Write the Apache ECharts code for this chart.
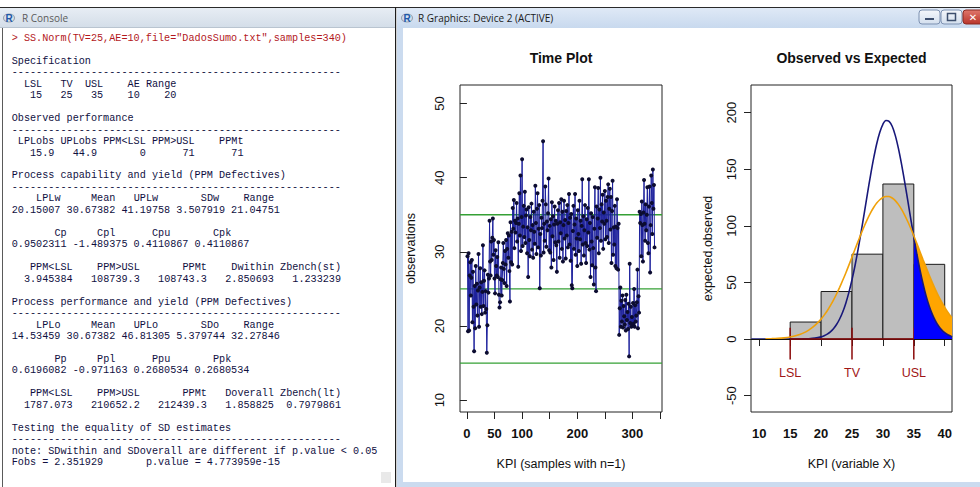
<!DOCTYPE html>
<html>
<head>
<meta charset="utf-8">
<script src="https://cdn.jsdelivr.net/npm/echarts@6/dist/echarts.min.js"></script>
<style>
html, body { margin: 0; padding: 0; background: #fff; }
#main { width: 980px; height: 487px; }
</style>
</head>
<body>
<div id="main"></div>
<script>
// time plot: 340 observations
var obs = [
29.4,19.3,29.8,19.4,26.8,28.6,24.1,26.5,28.9,20.5,27.3,22.6,16.6,25.4,19.7,28.1,22.9,25.7,21.4,24.8,
29.7,19.9,25.2,27.8,22.6,25.9,21.6,24.6,30.9,22.7,26.1,27.5,21.8,24.7,22.3,16.4,20.1,26.9,24.5,26.4,
34.2,28.7,26.8,31.4,28.9,31.9,34.5,29.6,31.6,26.4,24.4,30.2,28.1,26.8,29.3,26.6,31.3,24.2,22.5,23.2,
26.3,27.9,24.1,26.2,28.5,31.2,27.7,25.8,30.1,28.3,31.6,25.4,30.4,32.5,29.2,32.2,27.4,23.3,34.0,28.6,
32.7,28.3,35.9,33.1,37.0,30.5,34.2,32.6,33.9,36.6,31.4,34.5,28.0,33.8,37.9,32.2,40.3,30.1,34.7,42.5,
30.8,33.4,36.2,32.0,38.1,31.2,34.9,35.7,29.8,33.3,26.6,36.0,31.6,29.4,34.7,32.9,36.5,30.3,33.6,29.2,
35.4,32.7,31.1,38.9,33.9,29.7,35.8,37.9,30.6,33.1,36.3,25.1,32.4,29.5,34.6,33.2,36.9,44.9,29.9,33.8,
31.5,38.8,36.4,30.7,34.1,32.9,35.2,39.9,30.2,33.5,29.9,34.4,27.9,36.7,32.1,34.8,28.9,33.7,36.1,31.3,
34.2,30.9,27.3,33.8,35.6,31.4,36.6,29.2,34.0,32.5,37.1,30.4,35.4,28.7,33.6,36.9,31.8,34.3,29.1,35.5,
32.2,36.3,30.6,33.9,37.8,31.0,34.6,28.8,35.1,25.5,25.1,32.8,36.2,30.4,33.7,37.8,29.6,34.5,31.8,28.1,
35.6,32.4,30.1,36.9,31.7,34.2,28.4,33.5,39.8,31.0,34.8,29.5,32.9,36.3,31.2,28.5,34.4,30.8,35.9,32.6,
39.8,30.3,33.9,26.6,35.2,31.4,28.2,34.7,30.5,25.6,33.1,38.7,27.9,24.7,36.1,31.9,34.5,38.6,29.8,35.7,
33.2,40.0,31.5,36.4,34.1,37.7,30.4,35.3,33.8,38.2,31.7,36.9,34.2,32.0,37.4,39.1,31.2,35.8,38.5,33.0,
37.4,28.5,35.5,39.6,29.6,33.3,31.0,36.2,28.1,33.4,27.8,37.1,33.2,27.6,33.8,18.8,22.4,25.2,19.9,23.4,
20.6,24.1,19.8,22.7,21.3,20.2,23.5,19.4,24.2,20.8,21.9,19.6,23.0,15.9,28.4,20.4,22.6,19.9,21.2,20.1,
23.1,20.3,25.0,19.9,22.8,20.6,21.4,23.2,27.6,19.7,24.0,21.8,35.4,33.9,35.1,29.4,36.8,33.6,28.7,35.3,
39.7,33.8,31.5,36.4,32.9,35.0,38.7,31.2,29.8,36.1,38.8,27.2,33.6,40.3,36.6,32.4,41.1,35.8,39.0,30.6
];
var specX = [15, 25, 35];
var specNames = ['LSL', 'TV', 'USL'];
var timeTicks = [0, 50, 100, 150, 200, 250, 300, 350];
var timeLabels = [0, 50, 100, 200, 300];
var obsTicks = [10, 20, 30, 40, 50];

// histogram
var breaks = [15, 20, 25, 30, 35, 40];
var counts = [15, 42, 75, 137, 66];
var histTicksX = [10, 15, 20, 25, 30, 35, 40];
var histTicksY = [-50, 0, 50, 100, 150, 200];

// expected curves (within = blue, overall = orange)
var withinX = [8.7,10,12,14,16,17,18,19,20,20.5,21,21.5,22,22.5,23,23.5,24,24.5,25,25.5,26,26.5,27,27.5,28,28.5,29,29.5,30,30.5,31,31.5,32,32.5,33,33.5,34,34.5,35,35.5,36,36.5,37,37.5,38,38.5,39,39.5,40,40.5,41,41.2];
var withinY = [0,0,0,0,0.03,0.1,0.28,0.76,1.9,2.9,4.3,6.3,9.1,12.8,17.7,23.9,31.7,41.2,52.4,65.2,79.7,95.4,111.8,128.5,144.7,159.6,172.6,182.8,189.8,193.1,192.4,188.0,180.0,168.7,155.0,139.6,123.2,106.5,90.2,74.9,61.0,48.6,37.9,29.0,21.8,16.0,11.5,8.1,5.6,3.8,2.5,2.1];
var overallX = [11,12,13,14,15,16,17,18,19,20,20.5,21,21.5,22,22.5,23,23.5,24,24.5,25,25.5,26,26.5,27,27.5,28,28.5,29,29.5,30,30.5,31,31.5,32,32.5,33,33.5,34,34.5,35,35.5,36,36.5,37,37.5,38,38.5,39,39.5,40,40.5,41,41.2];
var overallY = [0.16,0.31,0.57,1.04,1.81,3.06,4.99,7.88,12.0,17.6,21.1,25.0,29.5,34.4,39.8,45.7,51.9,58.4,65.3,72.4,79.5,86.5,93.4,99.9,106.0,111.5,116.2,120.2,123.1,125.1,126.0,125.9,124.6,122.3,119.0,114.8,109.8,104.1,97.9,91.2,84.3,77.2,70.1,63.1,56.3,49.9,43.7,38.0,32.8,28.0,23.8,19.9,18.8];

// console text
var dashes = '------------------------------------------------------';
var consoleLines = [
'> SS.Norm(TV=25,AE=10,file="DadosSumo.txt",samples=340)',
'',
'Specification',
dashes,
'  LSL   TV  USL    AE Range',
'   15   25   35    10    20',
'',
'Observed performance',
dashes,
' LPLobs UPLobs PPM<LSL PPM>USL    PPMt',
'   15.9   44.9       0      71      71',
'',
'Process capability and yield (PPM Defectives)',
dashes,
'    LPLw     Mean   UPLw       SDw    Range',
'20.15007 30.67382 41.19758 3.507919 21.04751',
'',
'       Cp     Cpl      Cpu       Cpk',
'0.9502311 -1.489375 0.4110867 0.4110867',
'',
'   PPM<LSL    PPM>USL       PPMt    Dwithin Zbench(st)',
'  3.945384   108739.3   108743.3   2.850693   1.233239',
'',
'Process performance and yield (PPM Defectives)',
dashes,
'    LPLo     Mean   UPLo       SDo    Range',
'14.53459 30.67382 46.81305 5.379744 32.27846',
'',
'       Pp     Ppl      Ppu       Ppk',
'0.6196082 -0.971163 0.2680534 0.2680534',
'',
'   PPM<LSL    PPM>USL       PPMt   Doverall Zbench(lt)',
'  1787.073   210652.2   212439.3   1.858825  0.7979861',
'',
'Testing the equality of SD estimates',
dashes,
'note: SDwithin and SDoverall are different if p.value < 0.05',
'Fobs = 2.351929       p.value = 4.773959e-15'
];

function pairs(xs, ys, from) {
    var out = [];
    for (var i = 0; i < xs.length; i++) {
        if (from == null || xs[i] >= from) out.push([xs[i], ys[i]]);
    }
    return out;
}

var charW = 6.1, lineH = 11.47, textX = 11.7, textY = 38.3;
var monoFont = (charW / 0.6).toFixed(2) + 'px "Liberation Mono", "DejaVu Sans Mono", monospace';

function consoleGraphics() {
    var els = [];
    consoleLines.forEach(function (line, k) {
        var re = /\S+(?: \S+)*/g, m;
        while ((m = re.exec(line)) !== null) {
            els.push({
                type: 'text', x: textX + m.index * charW, y: textY + k * lineH,
                style: { text: m[0], font: monoFont, fill: k === 0 ? '#b3181d' : '#10103f', textVerticalAlign: 'middle' }
            });
        }
    });
    return els;
}

function rIcon(x, y) {
    return [
        { type: 'ellipse', shape: { cx: x + 5, cy: y, rx: 5.5, ry: 4 }, style: { fill: 'none', stroke: '#9aa3ae', lineWidth: 1.2 } },
        { type: 'text', x: x + 5, y: y + 0.5, style: { text: 'R', font: 'bold 10px "Liberation Sans"', fill: '#2158a8', textAlign: 'center', textVerticalAlign: 'middle' } }
    ];
}

function titleGrad(top, bottom) {
    return { type: 'linear', x: 0, y: 0, x2: 0, y2: 1, colorStops: [{ offset: 0, color: top }, { offset: 1, color: bottom }] };
}

var chrome = [
    { type: 'rect', shape: { x: 0, y: 7, width: 980, height: 1 }, style: { fill: '#2a2a2a' } },
    // console window
    { type: 'rect', shape: { x: 0, y: 8, width: 395, height: 20 }, style: { fill: titleGrad('#e7edf4', '#d3dde8') } },
    { type: 'rect', shape: { x: 0, y: 27, width: 395, height: 1 }, style: { fill: '#b9c4d0' } },
    { type: 'rect', shape: { x: 2, y: 28, width: 1, height: 459 }, style: { fill: '#5a5a5a' } },
    { type: 'rect', shape: { x: 381, y: 472, width: 10, height: 11 }, style: { fill: '#e9e9e9' } },
    { type: 'rect', shape: { x: 395, y: 7, width: 1.2, height: 480 }, style: { fill: '#1c1c1c' } },
    { type: 'text', x: 22, y: 18, style: { text: 'R Console', font: '10px "Open Sans", "Noto Sans"', fill: '#5b5b5b', textVerticalAlign: 'middle' } },
    // graphics window frame (title bar, left and bottom borders)
    { type: 'rect', shape: { x: 397, y: 8, width: 583, height: 20 }, style: { fill: titleGrad('#dfe9f6', '#c8d9ee') } },
    { type: 'rect', shape: { x: 397, y: 28, width: 6, height: 459 }, style: { fill: '#cbdbef' } },
    { type: 'rect', shape: { x: 397, y: 482, width: 583, height: 5 }, style: { fill: '#cbdbef' } },
    { type: 'text', x: 418, y: 18, style: { text: 'R Graphics: Device 2 (ACTIVE)', font: '10px "Open Sans", "Noto Sans"', fill: '#1a1a1a', textVerticalAlign: 'middle' } },
    // caption buttons
    { type: 'rect', shape: { x: 919, y: 10, width: 21, height: 14, r: 3 }, style: { fill: titleGrad('#f4f7fb', '#d3dfee'), stroke: '#7d91b1', lineWidth: 1 } },
    { type: 'rect', shape: { x: 925, y: 18, width: 9, height: 2 }, style: { fill: '#3d4f6e' } },
    { type: 'rect', shape: { x: 941, y: 10, width: 21, height: 14, r: 3 }, style: { fill: titleGrad('#f4f7fb', '#d3dfee'), stroke: '#7d91b1', lineWidth: 1 } },
    { type: 'rect', shape: { x: 947.5, y: 13.5, width: 8, height: 7 }, style: { fill: 'none', stroke: '#3d4f6e', lineWidth: 1.5 } },
    { type: 'rect', shape: { x: 963, y: 10, width: 30, height: 14, r: 3 }, style: { fill: titleGrad('#e0776c', '#b9352b'), stroke: '#8a2a22', lineWidth: 1 } },
    { type: 'text', x: 973, y: 17, style: { text: '✕', font: 'bold 10px "DejaVu Sans"', fill: '#ffffff', textAlign: 'center', textVerticalAlign: 'middle' } },
    // plot titles
    { type: 'text', x: 561, y: 58, style: { text: 'Time Plot', font: 'bold 14px "Liberation Sans"', fill: '#111', textAlign: 'center', textVerticalAlign: 'middle' } },
    { type: 'text', x: 851.5, y: 58, style: { text: 'Observed vs Expected', font: 'bold 14px "Liberation Sans"', fill: '#111', textAlign: 'center', textVerticalAlign: 'middle' } }
];

var graphics = chrome.concat(rIcon(4, 18), rIcon(402, 18), consoleGraphics());

var xLabelStyle = { fontSize: 13, color: '#111', fontFamily: 'Liberation Sans', fontWeight: 'bold' };
var yLabelStyle = { fontSize: 13, color: '#111', fontFamily: 'Liberation Sans' };
var nameStyle = { fontSize: 12.5, color: '#111', fontFamily: 'Liberation Sans' };

var myChart = echarts.init(document.getElementById('main'), null, { renderer: 'svg' });

myChart.setOption({
    animation: false,
    backgroundColor: '#ffffff',
    textStyle: { fontFamily: 'Liberation Sans' },
    graphic: graphics,
    grid: [
        { left: 460, top: 85, width: 202, height: 327, show: true, borderColor: '#222', borderWidth: 1, backgroundColor: 'transparent' },
        { left: 751, top: 85, width: 201, height: 327, show: true, borderColor: '#222', borderWidth: 1, backgroundColor: 'transparent' }
    ],
    xAxis: [
        {
            gridIndex: 0, type: 'value', min: -12.56, max: 353.56,
            axisLine: { show: false }, splitLine: { show: false },
            axisTick: { show: true, length: 7, lineStyle: { color: '#222' }, customValues: timeTicks },
            axisLabel: Object.assign({ customValues: timeLabels, margin: 15 }, xLabelStyle),
            name: 'KPI (samples with n=1)', nameLocation: 'middle', nameGap: 45, nameTextStyle: nameStyle
        },
        {
            gridIndex: 1, type: 'value', min: 8.66, max: 41.18,
            axisLine: { show: false }, splitLine: { show: false },
            axisTick: { show: true, length: 7, lineStyle: { color: '#222' }, customValues: histTicksX },
            axisLabel: Object.assign({ customValues: histTicksX, margin: 15 }, xLabelStyle),
            name: 'KPI (variable X)', nameLocation: 'middle', nameGap: 45, nameTextStyle: nameStyle
        }
    ],
    yAxis: [
        {
            gridIndex: 0, type: 'value', min: 8.4, max: 52.5,
            axisLine: { show: false }, splitLine: { show: false },
            axisTick: { show: true, length: 7, lineStyle: { color: '#222' }, customValues: obsTicks },
            axisLabel: Object.assign({ customValues: obsTicks, margin: 14, rotate: 90 }, yLabelStyle),
            name: 'observations', nameLocation: 'middle', nameGap: 43, nameTextStyle: nameStyle
        },
        {
            gridIndex: 1, type: 'value', min: -64.5, max: 224.5,
            axisLine: { show: false }, splitLine: { show: false },
            axisTick: { show: true, length: 7, lineStyle: { color: '#222' }, customValues: histTicksY },
            axisLabel: Object.assign({ customValues: histTicksY, margin: 13, rotate: 90 }, yLabelStyle),
            name: 'expected,observed', nameLocation: 'middle', nameGap: 37, nameTextStyle: nameStyle
        }
    ],
    series: [
        {
            name: 'observations', type: 'line', xAxisIndex: 0, yAxisIndex: 0,
            data: obs.map(function (v, i) { return [i + 1, v]; }),
            symbol: 'circle', symbolSize: 4, showAllSymbol: true,
            lineStyle: { color: '#1d219c', width: 1 },
            itemStyle: { color: '#0c0c30' }
        },
        {
            name: 'spec lines', type: 'custom', xAxisIndex: 0, yAxisIndex: 0,
            data: specX.map(function (v) { return [0, v]; }),
            encode: { x: 0, y: 1 },
            renderItem: function (params, api) {
                var cs = params.coordSys;
                var y = api.coord([0, api.value(1)])[1];
                return {
                    type: 'line',
                    shape: { x1: cs.x, y1: y, x2: cs.x + cs.width, y2: y },
                    style: { stroke: '#35a035', lineWidth: 1.3 }
                };
            }
        },
        {
            name: 'observed', type: 'custom', xAxisIndex: 1, yAxisIndex: 1,
            data: counts.map(function (c, i) { return [breaks[i], breaks[i + 1], c]; }),
            encode: { x: [0, 1], y: 2 },
            renderItem: function (params, api) {
                var p0 = api.coord([api.value(0), api.value(2)]);
                var p1 = api.coord([api.value(1), 0]);
                return {
                    type: 'rect',
                    shape: { x: p0[0], y: p0[1], width: p1[0] - p0[0], height: p1[1] - p0[1] },
                    style: { fill: '#bebebe', stroke: '#1a1a1a', lineWidth: 1 }
                };
            }
        },
        {
            name: 'overall tail', type: 'line', xAxisIndex: 1, yAxisIndex: 1,
            data: pairs(overallX, overallY, specX[2]), smooth: 0.3, symbol: 'none',
            lineStyle: { width: 0, opacity: 0 }, areaStyle: { color: '#ffa500', opacity: 1 }
        },
        {
            name: 'within tail', type: 'line', xAxisIndex: 1, yAxisIndex: 1,
            data: pairs(withinX, withinY, specX[2]), smooth: 0.3, symbol: 'none',
            lineStyle: { width: 0, opacity: 0 }, areaStyle: { color: '#0000ff', opacity: 1 }
        },
        {
            name: 'within', type: 'line', xAxisIndex: 1, yAxisIndex: 1,
            data: pairs(withinX, withinY), smooth: 0.3, symbol: 'none',
            lineStyle: { color: '#18187a', width: 1.6 },
            markLine: {
                silent: true, symbol: ['none', 'none'], label: { show: false },
                data: [
                    { yAxis: 0, lineStyle: { color: '#111', width: 1, type: 'solid' } },
                    [{ coord: [specX[0], 0], lineStyle: { color: '#8b0a0a', width: 1.5, type: 'solid' } }, { coord: [specX[2], 0] }]
                ]
            }
        },
        {
            name: 'overall', type: 'line', xAxisIndex: 1, yAxisIndex: 1,
            data: pairs(overallX, overallY), smooth: 0.3, symbol: 'none',
            lineStyle: { color: '#f0a10a', width: 1.6 }
        },
        {
            name: 'spec', type: 'custom', xAxisIndex: 1, yAxisIndex: 1,
            data: specX.map(function (x) { return [x, 0]; }),
            encode: { x: 0, y: 1 },
            renderItem: function (params, api) {
                var x = api.value(0);
                var top = api.coord([x, 10]), bot = api.coord([x, -18]), lab = api.coord([x, -30]);
                return {
                    type: 'group',
                    children: [
                        { type: 'line', shape: { x1: top[0], y1: top[1], x2: bot[0], y2: bot[1] }, style: { stroke: '#8b0a0a', lineWidth: 1.5 } },
                        { type: 'text', x: lab[0], y: lab[1], style: { text: specNames[params.dataIndex], font: '12.5px "Liberation Sans"', fill: '#a01616', textAlign: 'center', textVerticalAlign: 'middle' } }
                    ]
                };
            }
        }
    ]
});
</script>
</body>
</html>
